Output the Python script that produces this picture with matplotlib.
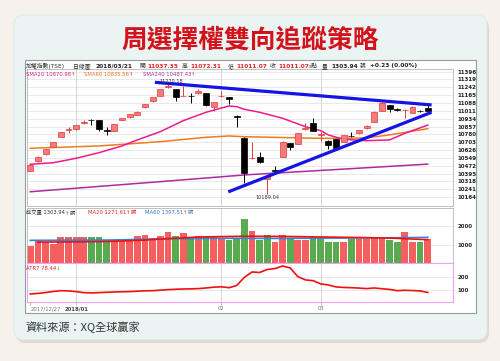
import numpy as np
import matplotlib.pyplot as plt
from matplotlib.patches import FancyBboxPatch, Rectangle
from matplotlib.text import Annotation

plt.rcParams['font.family'] = ['DejaVu Sans', 'Noto Sans CJK TC']

# daily candles, 2017/12/27 .. 2018/03/21
opens = [10423, 10515, 10587, 10659, 10757, 10820, 10830, 10895, 10922, 10920,
         10820, 10813, 10922, 10948, 10970, 11046, 11105, 11160, 11245, 11223,
         11155, 11160, 11184, 11184, 11052, 11155, 11144, 10965, 10747, 10545,
         10561, 10340, 10425, 10560, 10692, 10690, 10830, 10889, 10778, 10715,
         10731, 10708, 10766, 10790, 10840, 10904, 11013, 11069, 11028, 11015,
         10993, 11012, 11037.35]
highs = [10485, 10565, 10640, 10706, 10804, 10855, 10876, 10922, 10935, 10925,
         10848, 10884, 10945, 10984, 11008, 11082, 11148, 11228, 11270.18, 11228,
         11258, 11183, 11230, 11190, 11102, 11210, 11150, 10970, 10750, 10700,
         10604, 10380, 10465, 10712, 10695, 10795, 10889, 10944, 10800, 10720,
         10736, 10778, 10806, 10827, 10869, 11008, 11095, 11073, 11035, 11026,
         11059, 11020, 11072.31]
lows = [10415, 10510, 10580, 10655, 10752, 10793, 10826, 10880, 10870, 10815,
        10775, 10808, 10918, 10944, 10966, 11042, 11100, 11155, 11240, 11108,
        11155, 11091, 11180, 11060, 11010, 11150, 11078, 10855, 10299, 10540,
        10501, 10189.04, 10415, 10555, 10625, 10685, 10825, 10808, 10712, 10633,
        10638, 10703, 10755, 10786, 10836, 10900, 11008, 11003, 11010, 10938,
        10985, 10995, 11011.07]
closes = [10479, 10561, 10636, 10702, 10800, 10835, 10872, 10905, 10918, 10830,
          10814, 10879, 10940, 10980, 11003, 11078, 11144, 11223, 11252, 11150,
          11160, 11157, 11205, 11069, 11098, 11160, 11125, 10955, 10403, 10550,
          10511, 10373, 10420, 10707, 10659, 10790, 10845, 10813, 10782, 10675,
          10643, 10774, 10762, 10823, 10865, 11003, 11091, 11029, 11024, 11019,
          11046, 11008, 11011.07]

volume = [945, 1180, 1147, 1055, 1420, 1437, 1437, 1400, 1400, 1400,
          1235, 1235, 1218, 1273, 1454, 1530, 1366, 1492, 1672, 1475,
          1639, 1400, 1454, 1400, 1454, 1311, 1235, 1366, 2420, 1765,
          1235, 1546, 1126, 1546, 1311, 1273, 1235, 1400, 1366, 1147,
          1147, 1147, 1311, 1311, 1311, 1400, 1400, 1235, 1147, 1694,
          1147, 1126, 1303.94]
vol_up = [1, 1, 1, 1, 1, 1, 1, 1, 0, 0,
          0, 1, 1, 1, 1, 1, 1, 1, 1, 0,
          1, 0, 1, 0, 1, 1, 0, 0, 0, 1,
          0, 0, 1, 1, 0, 1, 1, 0, 0, 0,
          0, 1, 0, 1, 1, 1, 1, 0, 0, 1,
          1, 0, 1]

atr7 = [67, 71, 78, 86, 92, 90, 85, 77, 75, 77,
        80, 82, 84, 85, 88, 91, 92, 96, 100, 103,
        105, 106, 108, 113, 119, 122, 115, 132, 194, 236,
        232, 255, 262, 282, 267, 200, 175, 169, 144, 136,
        121, 117, 115, 112, 108, 113, 107, 102, 92, 95,
        93, 90, 78.44]

sma20_x = [0, 3, 6, 9, 12, 14, 17, 20, 23, 26, 27, 28, 30, 33, 36, 38, 39, 41, 44, 47, 49, 52]
sma20_y = [10486, 10501, 10545, 10600, 10666, 10725, 10806, 10914, 10997, 11059, 11052,
           11026, 10997, 10938, 10855, 10816, 10774, 10731, 10718, 10725, 10790, 10870.98]
sma60_x = [0, 9, 17, 23, 26, 28, 34, 38, 41, 44, 47, 52]
sma60_y = [10643, 10666, 10708, 10751, 10764, 10757, 10747, 10741, 10741, 10745, 10775, 10835.56]
sma240_x = [0, 17, 28, 52]
sma240_y = [10216, 10315, 10381, 10487.43]

vma20_x = [1, 5, 10, 15, 18, 22, 28, 33, 38, 43, 47, 52]
vma20_y = [1140, 1150, 1170, 1250, 1330, 1420, 1460, 1450, 1420, 1390, 1360, 1271.61]
vma60_x = [0, 10, 18, 25, 32, 40, 47, 52]
vma60_y = [1235, 1250, 1320, 1350, 1340, 1360, 1375, 1397.51]

trend_hi_x = [16.3, 52.5]
trend_hi_y = [11291, 11069]
trend_lo_x = [25.9, 52.5]
trend_lo_y = [10215, 10997]

price_ticks = [11396, 11319, 11242, 11165, 11088, 11011, 10934, 10857, 10780,
               10703, 10626, 10549, 10472, 10395, 10318, 10241, 10164]
month_idx = [0, 6, 25, 38]
month_lbl = ['2017/12/27', '2018/01', '02', '03']

RED = '#e02525'
n = len(opens)
idx = np.arange(n)

fig = plt.figure(figsize=(5, 3.61), dpi=100)
fig.patch.set_facecolor('#f6f1ea')

bg = fig.add_axes([0, 0, 1, 1])
bg.set_xlim(0, 500)
bg.set_ylim(361, 0)
bg.axis('off')
bg.add_patch(FancyBboxPatch((16, 18), 473, 325, boxstyle='round,pad=0,rounding_size=10',
                            fc='#d8d0c6', ec='none', alpha=0.7))
bg.add_patch(FancyBboxPatch((14, 15), 473, 325, boxstyle='round,pad=0,rounding_size=10',
                            fc='#eaf4f2', ec='#dde6e4', lw=0.5))
bg.add_patch(Rectangle((25, 60), 451, 253, fc='white', ec='#9a9a9a', lw=0.8))
bg.text(250, 40, '周選擇權雙向追蹤策略', ha='center', va='center', fontsize=18.5,
        color='#d3121c', fontweight='bold', family=['Noto Sans CJK TC'])
bg.text(25, 327, '資料來源：XQ全球贏家', ha='left', va='center', fontsize=8,
        color='#333333', family=['Noto Sans CJK TC'])


def px(x0, y0, x1, y1):
    return [x0 / 500, 1 - y1 / 361, (x1 - x0) / 500, (y1 - y0) / 361]


def ftext(x, y, s, **kw):
    return fig.text(x / 500, 1 - y / 361, s, va='center', **kw)


def chain(prev, s, **kw):
    a = Annotation(s, xy=(1, 0), xycoords=prev, va='bottom', ha='left', **kw)
    fig.add_artist(a)
    return a


# header line
hdr = [(26, '加權指數(TSE)', '#333333', 'normal'), (73, '日線圖', '#333333', 'normal'),
       (95, '2018/03/21', '#222222', 'bold'), (139, '開', '#333333', 'normal'),
       (147, '11037.35', RED, 'bold'), (182, '高', '#333333', 'normal'),
       (190, '11072.31', RED, 'bold'), (228, '低', '#333333', 'normal'),
       (236, '11011.07', RED, 'bold'), (270, '收', '#333333', 'normal'),
       (278, '11011.07', RED, 'bold'), (309, 's點', '#333333', 'normal'),
       (322, '量', '#333333', 'normal'), (331, '1303.94', '#222222', 'bold'),
       (360, '張', '#333333', 'normal'), (370, '+0.23 (0.00%)', '#222222', 'bold')]
for x, s, c, w in hdr:
    ftext(x, 66, s, fontsize=4.2, color=c, fontweight=w)

xl = (-0.43, 55.3)

# price panel
axp = fig.add_axes(px(27, 69, 453, 206))
axp.set_xlim(*xl)
axp.set_ylim(10076, 11422)
for t in price_ticks:
    axp.axhline(t, color='#e0e0e0', lw=0.5, zorder=0)
for m in month_idx[1:]:
    axp.axvline(m, color='#d0d0d0', lw=0.6, zorder=0)

axp.plot(sma240_x, sma240_y, color='#b02a9e', lw=1.1, zorder=2)
axp.plot(sma60_x, sma60_y, color='#f07a22', lw=1.1, zorder=2)
axp.plot(sma20_x, sma20_y, color='#ee1a8c', lw=1.1, zorder=2)

for i in range(n):
    up = closes[i] >= opens[i]
    wc = '#e03a3a' if up else 'black'
    fc = '#f47b7b' if up else 'black'
    axp.vlines(i, lows[i], highs[i], color=wc, lw=0.7, zorder=3)
    lo = min(opens[i], closes[i])
    h = max(abs(closes[i] - opens[i]), 3)
    axp.bar(i, h, bottom=lo, width=0.78, color=fc, edgecolor=wc, lw=0.5, zorder=4)

axp.plot(trend_hi_x, trend_hi_y, color='#1414e6', lw=2.3, zorder=5, solid_capstyle='butt')
axp.plot(trend_lo_x, trend_lo_y, color='#1414e6', lw=2.3, zorder=5, solid_capstyle='butt')

axp.text(18.4, 11278, '11270.18', ha='center', va='bottom', fontsize=3.6, color='#333333', zorder=6)
axp.text(31, 10162, '10189.04', ha='center', va='center', fontsize=3.6, color='#333333', zorder=6)

axp.yaxis.tick_right()
axp.set_yticks(price_ticks)
axp.set_yticklabels([str(t) for t in price_ticks], fontsize=4, fontweight='bold', color='#222222')
axp.tick_params(axis='y', length=0, pad=3)
axp.set_xticks([])

t = ftext(26, 74, 'SMA20 10870.98', fontsize=3.8, color='#e0208a')
chain(t, '↑', fontsize=3.8, color=RED)
t = ftext(84, 74, 'SMA60 10835.56', fontsize=3.8, color='#f07020')
chain(t, '↑', fontsize=3.8, color=RED)
t = ftext(143, 74, 'SMA240 10487.43', fontsize=3.8, color='#b030a0')
chain(t, '↑', fontsize=3.8, color=RED)

# volume panel
axv = fig.add_axes(px(27, 208, 453, 263))
axv.set_xlim(*xl)
axv.set_ylim(0, 3000)
for g in [1000, 2000]:
    axv.axhline(g, color='#e0e0e0', lw=0.5, zorder=0)
for m in month_idx[1:]:
    axv.axvline(m, color='#d0d0d0', lw=0.6, zorder=0)
vcol = ['#f45f5f' if u else '#5aab4f' for u in vol_up]
axv.bar(idx, volume, width=0.88, color=vcol, zorder=2)
axv.plot(vma60_x, vma60_y, color='#2f86d6', lw=1.2, zorder=3)
axv.plot(vma20_x, vma20_y, color='#ee1111', lw=1.2, zorder=3)
axv.yaxis.tick_right()
axv.set_yticks([1000, 2000])
axv.set_yticklabels(['1000', '2000'], fontsize=4, fontweight='bold', color='#222222')
axv.tick_params(axis='y', length=0, pad=3)
axv.set_xticks([])

t = ftext(26, 213, '成交量 1303.94', fontsize=3.8, color='#333333')
t = chain(t, '↑', fontsize=3.8, color=RED)
chain(t, '張', fontsize=3.8, color='#333333')
t = ftext(88, 213, 'MA20 1271.61', fontsize=3.8, color=RED)
t = chain(t, '↑', fontsize=3.8, color=RED)
chain(t, '張', fontsize=3.8, color=RED)
t = ftext(145, 213, 'MA60 1397.51', fontsize=3.8, color='#2f78c8')
t = chain(t, '↑', fontsize=3.8, color=RED)
chain(t, '張', fontsize=3.8, color='#2f78c8')

# ATR panel
axa = fig.add_axes(px(27, 263, 453, 302))
axa.set_xlim(*xl)
axa.set_ylim(5, 305)
for g in [100, 200]:
    axa.axhline(g, color='#e0e0e0', lw=0.5, zorder=0)
for m in month_idx[1:]:
    axa.axvline(m, color='#d0d0d0', lw=0.6, zorder=0)
axa.plot(idx, atr7, color='#ee1111', lw=1.2, zorder=2)
axa.yaxis.tick_right()
axa.set_yticks([100, 200])
axa.set_yticklabels(['100', '200'], fontsize=4, fontweight='bold', color='#222222')
axa.tick_params(axis='y', length=0, pad=3)
axa.set_xticks(month_idx)
lbls = axa.set_xticklabels(month_lbl, fontsize=3.8, color='#777777')
lbls[0].set_horizontalalignment('left')
lbls[0].set_x(-0.4)
lbls[1].set_fontweight('bold')
lbls[1].set_color('#444444')
axa.tick_params(axis='x', length=2, width=0.5, color='#999999', pad=1)
for s in axa.spines.values():
    s.set_color('#f0a0f0')
    s.set_linewidth(0.8)

t = ftext(26, 268, 'ATR7 78.44', fontsize=3.8, color=RED)
chain(t, '↓', fontsize=3.8, color='#22aa22')

for ax in (axp, axv):
    for s in ax.spines.values():
        s.set_color('#b5b5b5')
        s.set_linewidth(0.6)

plt.savefig('out.png', dpi=100, facecolor=fig.get_facecolor())
